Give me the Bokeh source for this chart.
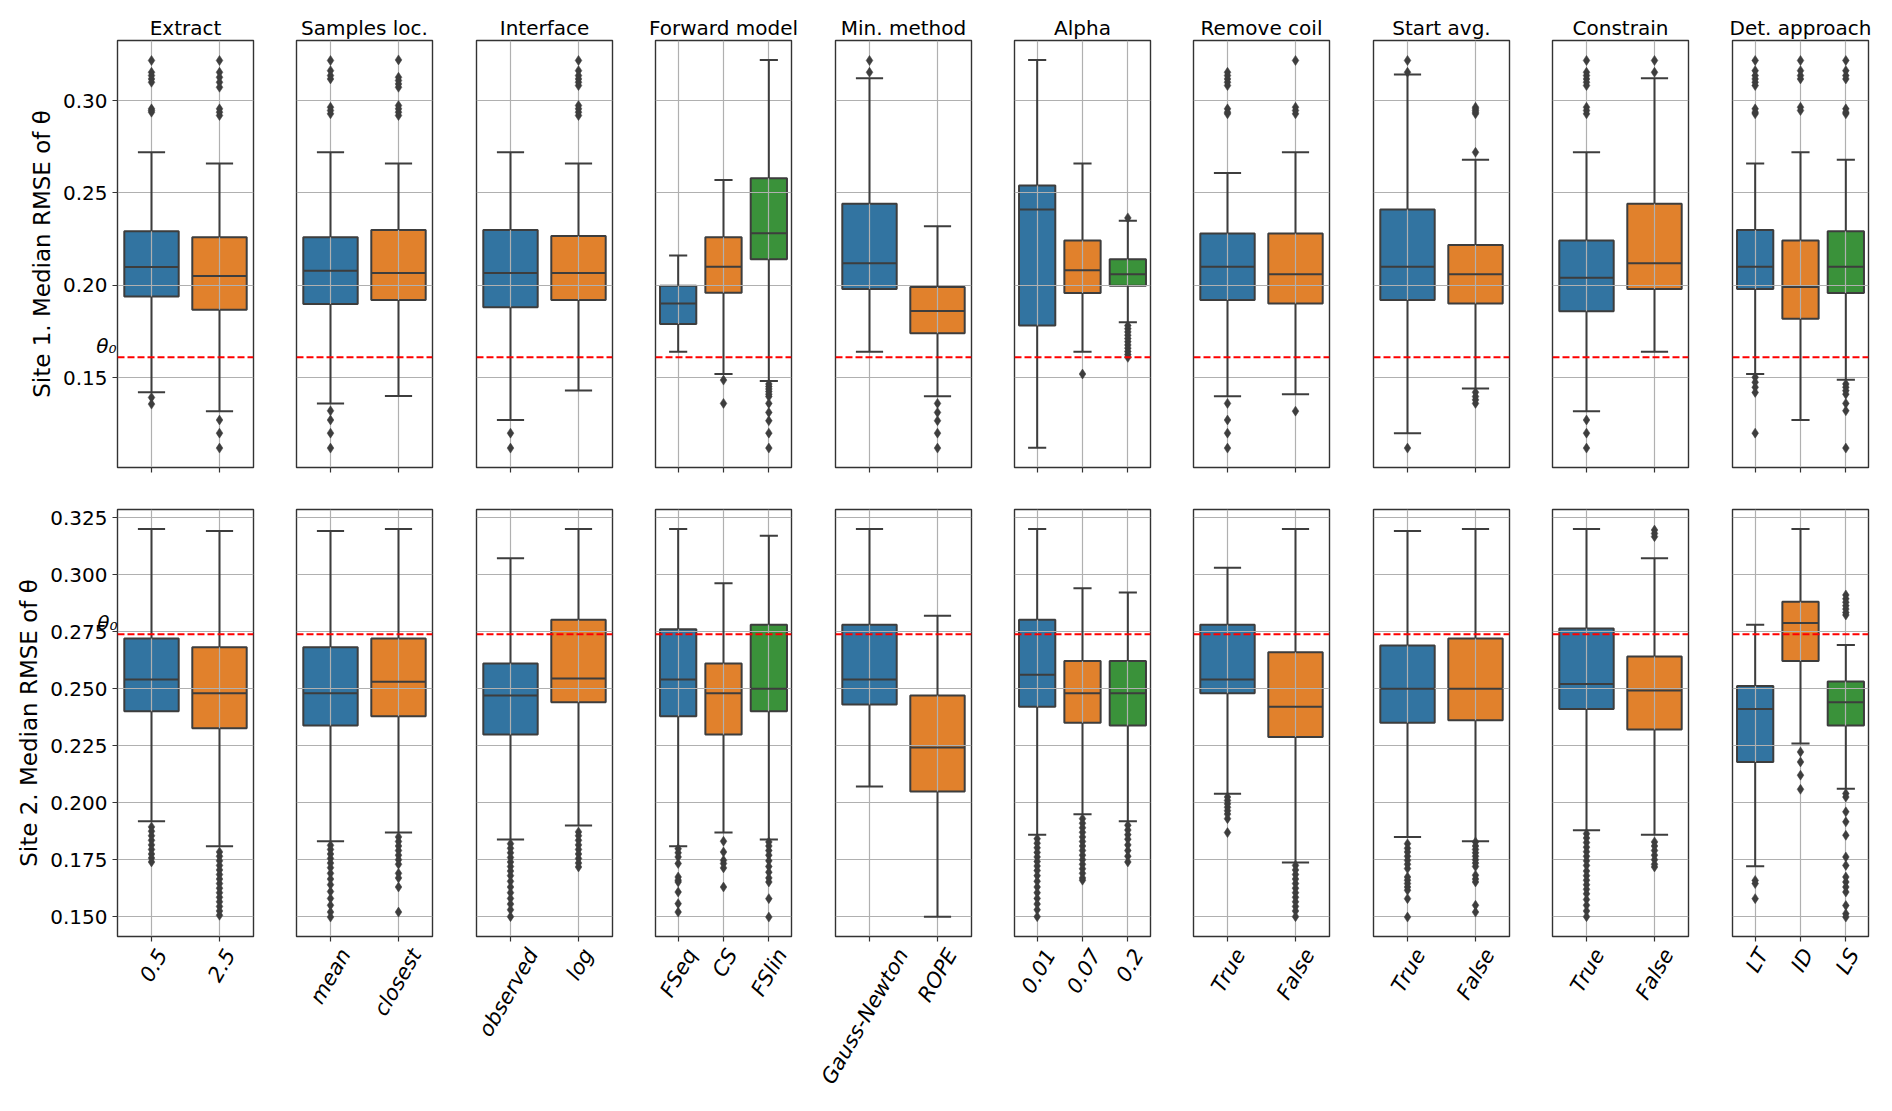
import math
from bokeh.plotting import figure
from bokeh.layouts import row, column
from bokeh.models import (Range1d, FixedTicker, PrintfTickFormatter, Span, LinearAxis,
                          CustomJSTickFormatter)
from bokeh.embed import file_html
from bokeh.resources import INLINE

titles = ["Extract", "Samples loc.", "Interface", "Forward model", "Min. method",
          "Alpha", "Remove coil", "Start avg.", "Constrain", "Det. approach"]
categories = [["0.5", "2.5"], ["mean", "closest"], ["observed", "log"],
              ["FSeq", "CS", "FSlin"], ["Gauss-Newton", "ROPE"],
              ["0.01", "0.07", "0.2"], ["True", "False"], ["True", "False"],
              ["True", "False"], ["LT", "ID", "LS"]]
palette = ["#3274a1", "#e1812c", "#3a923a"]

row_labels = ["Site 1. Median RMSE of θ", "Site 2. Median RMSE of θ"]
theta0 = [0.161, 0.274]
theta0_text = "θ₀"
ytick_values = [[0.15, 0.20, 0.25, 0.30],
                [0.150, 0.175, 0.200, 0.225, 0.250, 0.275, 0.300, 0.325]]
ytick_formats = ["%.2f", "%.3f"]

# ---------------- Site 1 ----------------
site1_whislo = [[0.1421, 0.1319], [0.1361, 0.1401], [0.1271, 0.1431],
                [0.1641, 0.1520, 0.1482], [0.1641, 0.1399],
                [0.1121, 0.1641, 0.1800], [0.1399, 0.1410], [0.1200, 0.1442],
                [0.1319, 0.1641], [0.1520, 0.1271, 0.1489]]
site1_q1 = [[0.1939, 0.1868], [0.1899, 0.1921], [0.1881, 0.1921],
            [0.1791, 0.1960, 0.2141], [0.1980, 0.1740],
            [0.1782, 0.1958, 0.1998], [0.1921, 0.1901], [0.1921, 0.1901],
            [0.1859, 0.1980], [0.1980, 0.1819, 0.1958]]
site1_med = [[0.2099, 0.2051], [0.2079, 0.2067], [0.2067, 0.2067],
             [0.1901, 0.2101, 0.2282], [0.2119, 0.1861],
             [0.2410, 0.2081, 0.2060], [0.2101, 0.2060], [0.2101, 0.2060],
             [0.2041, 0.2119], [0.2101, 0.1991, 0.2101]]
site1_q3 = [[0.2292, 0.2260], [0.2260, 0.2300], [0.2300, 0.2267],
            [0.1998, 0.2260, 0.2579], [0.2442, 0.1991],
            [0.2540, 0.2242, 0.2141], [0.2280, 0.2280], [0.2410, 0.2218],
            [0.2242, 0.2442], [0.2300, 0.2242, 0.2292]]
site1_whishi = [[0.2720, 0.2659], [0.2720, 0.2659], [0.2720, 0.2659],
                [0.2161, 0.2570, 0.3220], [0.3121, 0.2320],
                [0.3220, 0.2659, 0.2350], [0.2608, 0.2720], [0.3141, 0.2679],
                [0.2720, 0.3121], [0.2659, 0.2720, 0.2679]]
site1_fliers = [
    [[0.3217, 0.3153, 0.3135, 0.3117, 0.3099, 0.2955, 0.2946, 0.2937, 0.1393, 0.1357],
     [0.3217, 0.3153, 0.3126, 0.3099, 0.3072, 0.2955, 0.2937, 0.2919, 0.1271, 0.1200, 0.1119]],
    [[0.3217, 0.3162, 0.3135, 0.3117, 0.2964, 0.2946, 0.2928, 0.1321, 0.1271, 0.1200, 0.1119],
     [0.3220, 0.3126, 0.3108, 0.3090, 0.3072, 0.2973, 0.2955, 0.2937, 0.2919]],
    [[0.1200, 0.1119],
     [0.3217, 0.3162, 0.3135, 0.3117, 0.3099, 0.3081, 0.2973, 0.2955, 0.2937, 0.2919]],
    [[],
     [0.1487, 0.1361],
     [0.1466, 0.1452, 0.1439, 0.1425, 0.1411, 0.1398, 0.1361, 0.1312, 0.1267, 0.1200, 0.1119]],
    [[0.3217, 0.3153],
     [0.1361, 0.1312, 0.1267, 0.1200, 0.1119]],
    [[],
     [0.1520],
     [0.2365, 0.1782, 0.1765, 0.1748, 0.1730, 0.1712, 0.1695, 0.1677, 0.1660, 0.1642, 0.1625, 0.1610]],
    [[0.3153, 0.3135, 0.3117, 0.3099, 0.3081, 0.2955, 0.2937, 0.2928, 0.1361, 0.1271, 0.1200, 0.1119],
     [0.3217, 0.2964, 0.2946, 0.2928, 0.1319]],
    [[0.3217, 0.3153, 0.1119],
     [0.2964, 0.2955, 0.2946, 0.2937, 0.2928, 0.2720, 0.1421, 0.1398, 0.1380, 0.1361]],
    [[0.3217, 0.3153, 0.3135, 0.3117, 0.3099, 0.3081, 0.2964, 0.2946, 0.2928, 0.1271, 0.1200, 0.1119],
     [0.3217, 0.3153]],
    [[0.3217, 0.3162, 0.3135, 0.3117, 0.3099, 0.3081, 0.2955, 0.2937, 0.2928, 0.1502, 0.1475, 0.1448, 0.1420, 0.1200],
     [0.3217, 0.3162, 0.3135, 0.3117, 0.2964, 0.2946],
     [0.3217, 0.3162, 0.3135, 0.3117, 0.2955, 0.2937, 0.2928, 0.1466, 0.1448, 0.1430, 0.1411, 0.1361, 0.1321, 0.1119]],
]

# ---------------- Site 2 ----------------
site2_whislo = [[0.1919, 0.1809], [0.1831, 0.1869], [0.1839, 0.1900],
                [0.1809, 0.1869, 0.1839], [0.2071, 0.1500],
                [0.1860, 0.1949, 0.1919], [0.2039, 0.1738], [0.1850, 0.1831],
                [0.1879, 0.1860], [0.1721, 0.2260, 0.2061]]
site2_q1 = [[0.2402, 0.2327], [0.2339, 0.2380], [0.2299, 0.2441],
            [0.2380, 0.2299, 0.2402], [0.2431, 0.2049],
            [0.2421, 0.2351, 0.2339], [0.2481, 0.2289], [0.2351, 0.2362],
            [0.2411, 0.2321], [0.2179, 0.2622, 0.2339]]
site2_med = [[0.2541, 0.2481], [0.2481, 0.2531], [0.2471, 0.2545],
             [0.2541, 0.2481, 0.2500], [0.2541, 0.2242],
             [0.2562, 0.2481, 0.2481], [0.2541, 0.2421], [0.2500, 0.2500],
             [0.2521, 0.2493], [0.2411, 0.2789, 0.2441]]
site2_q3 = [[0.2721, 0.2682], [0.2682, 0.2721], [0.2611, 0.2803],
            [0.2762, 0.2611, 0.2781], [0.2781, 0.2471],
            [0.2803, 0.2622, 0.2622], [0.2781, 0.2661], [0.2690, 0.2721],
            [0.2765, 0.2642], [0.2512, 0.2882, 0.2532]]
site2_whishi = [[0.3202, 0.3193], [0.3193, 0.3202], [0.3073, 0.3202],
                [0.3202, 0.2963, 0.3172], [0.3202, 0.2821],
                [0.3202, 0.2941, 0.2923], [0.3032, 0.3202], [0.3193, 0.3202],
                [0.3202, 0.3073], [0.2781, 0.3202, 0.2692]]
site2_fliers = [
    [[0.1894, 0.1875, 0.1855, 0.1835, 0.1815, 0.1795, 0.1775, 0.1757, 0.1740],
     [0.1784, 0.1765, 0.1745, 0.1725, 0.1705, 0.1685, 0.1665, 0.1645, 0.1625, 0.1605,
      0.1585, 0.1565, 0.1545, 0.1525, 0.1506]],
    [[0.1813, 0.1795, 0.1775, 0.1755, 0.1735, 0.1715, 0.1690, 0.1665, 0.1640, 0.1610,
      0.1580, 0.1550, 0.1520, 0.1498],
     [0.1850, 0.1830, 0.1810, 0.1790, 0.1770, 0.1750, 0.1730, 0.1690, 0.1670, 0.1630, 0.1520]],
    [[0.1820, 0.1800, 0.1780, 0.1760, 0.1740, 0.1720, 0.1700, 0.1680, 0.1655, 0.1630,
      0.1605, 0.1580, 0.1555, 0.1530, 0.1500],
     [0.1872, 0.1855, 0.1835, 0.1815, 0.1795, 0.1775, 0.1755, 0.1735, 0.1718]],
    [[0.1798, 0.1780, 0.1762, 0.1733, 0.1674, 0.1660, 0.1652, 0.1608, 0.1557, 0.1520],
     [0.1831, 0.1784, 0.1747, 0.1733, 0.1714, 0.1630],
     [0.1828, 0.1810, 0.1790, 0.1770, 0.1745, 0.1720, 0.1695, 0.1670, 0.1652, 0.1579, 0.1498]],
    [[], []],
    [[0.1842, 0.1822, 0.1802, 0.1782, 0.1762, 0.1742, 0.1722, 0.1702, 0.1680, 0.1655,
      0.1630, 0.1605, 0.1580, 0.1555, 0.1530, 0.1500],
     [0.1930, 0.1910, 0.1890, 0.1870, 0.1850, 0.1830, 0.1810, 0.1790, 0.1770, 0.1750,
      0.1730, 0.1710, 0.1690, 0.1670, 0.1660],
     [0.1901, 0.1880, 0.1860, 0.1840, 0.1815, 0.1790, 0.1765, 0.1740]],
    [[0.2025, 0.2010, 0.1995, 0.1980, 0.1965, 0.1950, 0.1930, 0.1869],
     [0.1725, 0.1705, 0.1685, 0.1665, 0.1645, 0.1625, 0.1605, 0.1585, 0.1565, 0.1545,
      0.1525, 0.1500]],
    [[0.1820, 0.1800, 0.1784, 0.1765, 0.1747, 0.1730, 0.1711, 0.1674, 0.1660, 0.1645,
      0.1630, 0.1616, 0.1579, 0.1498],
     [0.1828, 0.1810, 0.1795, 0.1780, 0.1765, 0.1750, 0.1735, 0.1720, 0.1682, 0.1665,
      0.1652, 0.1550, 0.1520]],
    [[0.1864, 0.1845, 0.1825, 0.1805, 0.1785, 0.1765, 0.1745, 0.1725, 0.1700, 0.1680,
      0.1660, 0.1640, 0.1620, 0.1600, 0.1575, 0.1550, 0.1525, 0.1500],
     [0.3197, 0.3182, 0.3168, 0.1828, 0.1810, 0.1790, 0.1770, 0.1750, 0.1730, 0.1718]],
    [[0.1659, 0.1645, 0.1579],
     [0.2223, 0.2179, 0.2121, 0.2059],
     [0.2912, 0.2895, 0.2880, 0.2865, 0.2850, 0.2835, 0.2824, 0.2040, 0.2025, 0.1960,
      0.1916, 0.1857, 0.1762, 0.1725, 0.1674, 0.1652, 0.1630, 0.1608, 0.1549, 0.1513, 0.1498]],
]

sites = [
    (site1_whislo, site1_q1, site1_med, site1_q3, site1_whishi, site1_fliers),
    (site2_whislo, site2_q1, site2_med, site2_q3, site2_whishi, site2_fliers),
]

FONT = "DejaVu Sans"
EDGE = "#3d3d3d"
FRAME_W, FRAME_H = 136, 427
PITCH = 179.4
LEFT0 = 117
RIGHT_B = 21
XLABEL_FONT_PX = 21
XLABEL_STANDOFF = 9
THETA_LABEL_RAISE_PX = 11
THETA_LABEL_NUDGE_PX = 4
YTICK_FONT_PX = 20
YLABEL_FONT_PX = 23

# DejaVu Sans advance widths (em) used to centre rotated labels on their ticks
CHAR_W = {"0": 0.636, "1": 0.636, "2": 0.636, "5": 0.636, "7": 0.636, ".": 0.318,
          "-": 0.361, "a": 0.613, "c": 0.550, "d": 0.635, "e": 0.615, "g": 0.635,
          "l": 0.278, "m": 0.974, "n": 0.634, "o": 0.612, "q": 0.635, "r": 0.411,
          "s": 0.521, "t": 0.392, "u": 0.634, "v": 0.592, "w": 0.818, "b": 0.635,
          "i": 0.278, "C": 0.698, "D": 0.770, "E": 0.632, "F": 0.575, "G": 0.775,
          "I": 0.295, "L": 0.557, "N": 0.748, "O": 0.787, "P": 0.603, "R": 0.695,
          "S": 0.635, "T": 0.611}


def text_width(s, px):
    return sum(CHAR_W.get(ch, 0.6) for ch in s) * px


def data_range(site):
    whislo, q1, med, q3, whishi, fliers = site
    vals = []
    for arr in (whislo, whishi):
        for panel in arr:
            vals.extend(panel)
    for panel in fliers:
        for f in panel:
            vals.extend(f)
    lo, hi = min(vals), max(vals)
    pad = 0.05 * (hi - lo)
    return lo - pad, hi + pad


def frame_lefts():
    pos = [round(LEFT0 + i * PITCH) for i in range(len(titles))]
    borders = [LEFT0]
    for i in range(1, len(pos)):
        borders.append(pos[i] - pos[i - 1] - FRAME_W - RIGHT_B)
    return borders


borders_left = frame_lefts()


def style_no_ticks(ax):
    ax.axis_line_color = None
    ax.major_tick_line_color = None
    ax.minor_tick_line_color = None
    ax.major_tick_out = 0
    ax.major_tick_in = 0


def main_yaxis_size(r):
    text = ytick_formats[r] % ytick_values[r][0]
    return 5 + 5 + text_width(text, YTICK_FONT_PX) + 5 + 1.2 * YLABEL_FONT_PX


def make_panel(r, c):
    whislo, q1, med, q3, whishi, fliers = sites[r]
    cats = categories[c]
    n = len(cats)
    lo, hi = data_range(sites[r])
    top = (r == 0)
    p = figure(frame_width=FRAME_W, frame_height=FRAME_H,
               x_range=Range1d(-0.5, n - 0.5), y_range=Range1d(lo, hi),
               output_backend="svg", toolbar_location=None,
               min_border_left=borders_left[c], min_border_right=RIGHT_B,
               min_border_top=40 if top else 22,
               min_border_bottom=20 if top else 160)
    p.background_fill_color = "white"
    p.border_fill_color = "white"
    p.outline_line_color = "#333333"
    p.outline_line_width = 1.4

    xs = list(range(n))
    w = 0.8
    # boxes (below the grid, like matplotlib patches)
    p.vbar(x=xs, width=w, bottom=q1[c], top=q3[c], fill_color=palette[:n],
           line_color=EDGE, line_width=2, level="underlay")
    # whiskers
    p.segment(x0=xs, y0=q3[c], x1=xs, y1=whishi[c], line_color=EDGE, line_width=2)
    p.segment(x0=xs, y0=q1[c], x1=xs, y1=whislo[c], line_color=EDGE, line_width=2)
    # caps
    p.segment(x0=[x - w / 4 for x in xs], y0=whishi[c], x1=[x + w / 4 for x in xs],
              y1=whishi[c], line_color=EDGE, line_width=2)
    p.segment(x0=[x - w / 4 for x in xs], y0=whislo[c], x1=[x + w / 4 for x in xs],
              y1=whislo[c], line_color=EDGE, line_width=2)
    # medians
    p.segment(x0=[x - w / 2 for x in xs], y0=med[c], x1=[x + w / 2 for x in xs],
              y1=med[c], line_color=EDGE, line_width=2)
    # fliers
    fx, fy = [], []
    for i, f in enumerate(fliers[c]):
        fx.extend([xs[i]] * len(f))
        fy.extend(f)
    p.scatter(x=fx, y=fy, marker="diamond", size=10, fill_color=EDGE, line_color=EDGE,
              line_width=0.5)

    # theta0 reference
    p.add_layout(Span(location=theta0[r], dimension="width", line_color="red",
                      line_width=2, line_dash="7 3"))

    # grid
    p.xgrid.ticker = FixedTicker(ticks=xs)
    p.ygrid.ticker = FixedTicker(ticks=ytick_values[r])
    for g in (p.xgrid, p.ygrid):
        g.grid_line_color = "#b0b0b0"
        g.grid_line_width = 1.2

    # x axis: tick marks only
    xa = p.xaxis[0]
    xa.ticker = FixedTicker(ticks=xs)
    xa.axis_line_color = None
    xa.major_tick_line_color = "#333333"
    xa.major_tick_line_width = 1.2
    xa.major_tick_out = 5
    xa.major_tick_in = 0
    xa.minor_tick_line_color = None
    xa.major_label_text_color = None
    xa.major_label_text_font_size = "1px"
    xa.major_label_standoff = 0

    if not top:
        # rotated category labels on a second axis stacked below the tick axis;
        # each label position is nudged so the rotated text is centred on its tick
        unit_per_px = n / FRAME_W
        label_pos = [i + (3 + 0.2 * text_width(cats[i], XLABEL_FONT_PX)) * unit_per_px
                     for i in xs]
        la = LinearAxis(ticker=FixedTicker(ticks=label_pos),
                        formatter=CustomJSTickFormatter(args=dict(labels=cats),
                                                        code="return labels[index]"))
        style_no_ticks(la)
        la.major_label_orientation = math.pi / 3
        la.major_label_text_font = FONT
        la.major_label_text_font_size = "%dpx" % XLABEL_FONT_PX
        la.major_label_text_font_style = "italic"
        la.major_label_text_color = "black"
        la.major_label_standoff = XLABEL_STANDOFF
        p.add_layout(la, "below")

    # y axis
    ya = p.yaxis[0]
    if c == 0:
        ya.ticker = FixedTicker(ticks=ytick_values[r])
        ya.formatter = PrintfTickFormatter(format=ytick_formats[r])
        ya.axis_line_color = None
        ya.major_tick_line_color = "#333333"
        ya.major_tick_line_width = 1.2
        ya.major_tick_out = 5
        ya.major_tick_in = 0
        ya.minor_tick_line_color = None
        ya.major_label_text_font = FONT
        ya.major_label_text_font_size = "%dpx" % YTICK_FONT_PX
        ya.major_label_text_color = "black"
        ya.major_label_standoff = 5
        ya.axis_label = row_labels[r]
        ya.axis_label_text_font = FONT
        ya.axis_label_text_font_size = "%dpx" % YLABEL_FONT_PX
        ya.axis_label_text_font_style = "normal"
        ya.axis_label_text_color = "black"
        ya.axis_label_standoff = 5
        # theta0 marker text: an outer axis pulled back to the frame edge
        raise_units = THETA_LABEL_RAISE_PX * (hi - lo) / FRAME_H
        ta = LinearAxis(ticker=FixedTicker(ticks=[theta0[r] + raise_units]),
                        formatter=CustomJSTickFormatter(args=dict(t=theta0_text),
                                                        code="return t"))
        style_no_ticks(ta)
        ta.major_label_text_font = FONT
        ta.major_label_text_font_size = "20px"
        ta.major_label_text_font_style = "italic"
        ta.major_label_text_color = "black"
        ta.major_label_standoff = -int(round(main_yaxis_size(r) + THETA_LABEL_NUDGE_PX))
        p.add_layout(ta, "left")
    else:
        ya.visible = False

    if top:
        p.title.text = titles[c]
        p.title.text_font = FONT
        p.title.text_font_size = "20px"
        p.title.text_font_style = "normal"
        p.title.text_color = "black"
        p.title.align = "center"
        p.title.standoff = 1
    return p


top_row = row([make_panel(0, c) for c in range(len(titles))])
bottom_row = row([make_panel(1, c) for c in range(len(titles))])
layout = column(top_row, bottom_row)

open("out.html", "w").write(file_html(layout, INLINE))
